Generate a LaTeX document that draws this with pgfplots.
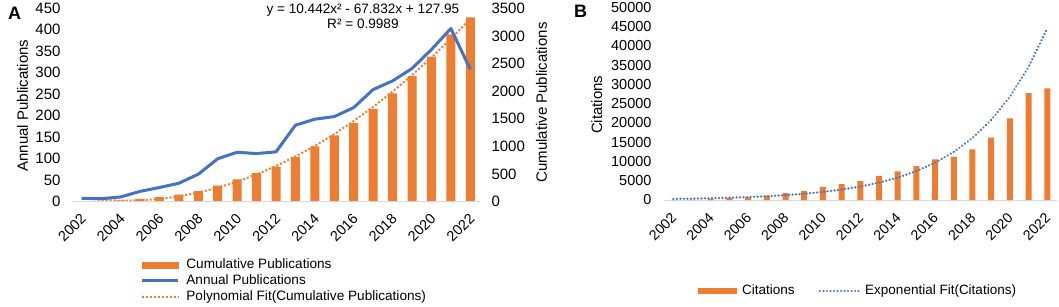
\documentclass[border=0pt]{standalone}
\usepackage{fontspec}
\setmainfont{Liberation Sans}
\usepackage{pgfplots}
\pgfplotsset{compat=1.18}
\definecolor{xorange}{HTML}{ED7D31}
\definecolor{xblue}{HTML}{4472C4}
\definecolor{xgrid}{HTML}{D9D9D9}
\pgfplotsset{
  common/.style={
    scale only axis, xmin=-0.5, xmax=20.5,
    major tick length=0pt,
    /pgf/number format/assume math mode=true,
    /pgf/number format/1000 sep={},
    scaled y ticks=false,
    clip=false,
  },
}
\begin{document}
\begin{tikzpicture}[x=1pt,y=1pt]
\path[use as bounding box] (0,0) rectangle (1059,306);
\node[font=\bfseries\fontsize{18}{20}\selectfont, anchor=center] at (14.5,292.5) {A};
\node[font=\bfseries\fontsize{18}{20}\selectfont, anchor=center] at (580.5,294.5) {B};

% ---------- Panel A, right axis: cumulative ----------
\begin{axis}[common,
  at={(72pt,104.3pt)}, anchor=south west,
  width=408pt, height=193.4pt,
  ymin=0, ymax=3500, ytick={0,500,...,3500},
  axis y line*=right, axis x line=none,
  y axis line style={draw=none},
  yticklabel style={font=\fontsize{15}{17}\selectfont, anchor=west, xshift=8pt},
  ylabel={Cumulative Publications},
  every axis y label/.style={at={(axis description cs:1.151,0.513)}, rotate=90, anchor=center, font=\fontsize{15}{17}\selectfont},
]
\addplot[ybar, bar width=9pt, bar shift=0pt, fill=xorange, draw=none, forget plot] coordinates {
(0,8) (1,15) (2,26) (3,50) (4,83) (5,126) (6,190) (7,290) (8,405) (9,517) (10,633)
(11,811) (12,1003) (13,1201) (14,1420) (15,1681) (16,1962) (17,2272) (18,2626) (19,3029) (20,3337)};
\addplot[xorange, line width=2pt, dash pattern=on 2pt off 2pt, forget plot] coordinates {
(0,70.56) (1,34.05) (2,18.43) (3,23.69) (4,49.84) (5,96.87) (6,164.78) (7,253.58) (8,363.26)
(9,493.83) (10,645.28) (11,817.61) (12,1010.83) (13,1224.93) (14,1459.92) (15,1715.79)
(16,1992.54) (17,2290.18) (18,2608.70) (19,2948.11) (20,3308.40)};
\end{axis}

% ---------- Panel A, left axis: annual ----------
\begin{axis}[common,
  at={(72pt,104.3pt)}, anchor=south west,
  width=408pt, height=193.4pt,
  ymin=0, ymax=450, ytick={0,50,...,450},
  axis y line*=left, axis x line*=bottom,
  y axis line style={draw=none},
  x axis line style={draw=xgrid, line width=1pt, -},
  xtick={0,2,...,20},
  xticklabels={2002,2004,2006,2008,2010,2012,2014,2016,2018,2020,2022},
  xticklabel style={font=\fontsize{14.5}{16}\selectfont, xshift=4.2pt, yshift=-12pt, rotate=45, anchor=east},
  yticklabel style={font=\fontsize{15}{17}\selectfont, anchor=east, xshift=-8pt},
  ylabel={Annual Publications},
  every axis y label/.style={at={(axis description cs:-0.121,0.497)}, rotate=90, anchor=center, font=\fontsize{15}{17}\selectfont},
  legend image code/.code={\draw[#1] (0pt,0pt) -- (36.7pt,0pt);},
  legend cell align=left,
  legend style={at={(axis description cs:0.1667,-0.410)}, anchor=west, draw=none, fill=none,
    inner sep=0pt, font=\fontsize{13.6}{15}\selectfont, row sep=4.5pt,
    nodes={inner sep=0pt, text height=9pt, text depth=2.5pt},
    /tikz/every odd column/.append style={column sep=6.5pt}},
]
\addlegendimage{legend image code/.code={\fill[xorange] (0pt,-3.2pt) rectangle (36.7pt,3.2pt);}}
\addlegendentry{Cumulative Publications}
\addplot[xblue, line width=3pt, line join=round] coordinates {
(0,8) (1,7) (2,11) (3,24) (4,33) (5,43) (6,64) (7,100) (8,115) (9,112) (10,116)
(11,178) (12,192) (13,198) (14,219) (15,261) (16,281) (17,310) (18,354) (19,403) (20,308)};
\addlegendentry{Annual Publications}
\addlegendimage{xorange, line width=2pt, dash pattern=on 2pt off 2pt}
\addlegendentry{Polynomial Fit(Cumulative Publications)}
\node[font=\fontsize{13.6}{15}\selectfont, anchor=center] at (axis description cs:0.713,0.991) {y = 10.442x² - 67.832x + 127.95};
\node[font=\fontsize{13.6}{15}\selectfont, anchor=center] at (axis description cs:0.713,0.918) {R² = 0.9989};
\end{axis}

% ---------- Panel B ----------
\begin{axis}[common,
  at={(664pt,106pt)}, anchor=south west,
  width=392.6pt, height=192.7pt,
  ymin=0, ymax=50000, ytick={0,5000,...,50000},
  axis y line*=left, axis x line*=bottom,
  y axis line style={draw=none},
  x axis line style={draw=xgrid, line width=1pt, -},
  xtick={0,2,...,20},
  xticklabels={2002,2004,2006,2008,2010,2012,2014,2016,2018,2020,2022},
  xticklabel style={font=\fontsize{14.2}{16}\selectfont, xshift=3pt, yshift=-13pt, rotate=45, anchor=east},
  yticklabel style={font=\fontsize{14.5}{16}\selectfont, anchor=east, xshift=-9pt},
  ylabel={Citations},
  every axis y label/.style={at={(axis description cs:-0.171,0.494)}, rotate=90, anchor=center, font=\fontsize{15}{17}\selectfont},
  legend image code/.code={\draw[#1] (0pt,0pt) -- (39pt,0pt);},
  legend columns=2,
  legend style={at={(axis description cs:0.0866,-0.472)}, anchor=west, draw=none, fill=none,
    inner sep=0pt, font=\fontsize{13.5}{15}\selectfont,
    nodes={inner sep=0pt, text height=9pt, text depth=2.5pt},
    /tikz/every odd column/.append style={column sep=5pt},
    /tikz/every even column/.append style={column sep=24pt}},
]
\addplot[ybar, bar width=6pt, bar shift=0pt, fill=xorange, draw=none,
  legend image code/.code={\fill[xorange] (0pt,-3.2pt) rectangle (39pt,3.2pt);}] coordinates {
(0,30) (1,100) (2,300) (3,480) (4,690) (5,1120) (6,1780) (7,2380) (8,3400) (9,4150) (10,4930)
(11,6250) (12,7400) (13,8820) (14,10550) (15,11250) (16,13150) (17,16180) (18,21190) (19,27720) (20,28980)};
\addlegendentry{Citations}
\addplot[xblue, line width=2.5pt, dash pattern=on 0.01pt off 3.5pt, line cap=round] coordinates {
(0,274) (1,354) (2,456) (3,589) (4,759) (5,979) (6,1263) (7,1629) (8,2101) (9,2710) (10,3496)
(11,4509) (12,5816) (13,7502) (14,9675) (15,12480) (16,16096) (17,20761) (18,26778) (19,34539) (20,44548)};
\addlegendentry{Exponential Fit(Citations)}
\end{axis}
\end{tikzpicture}
\end{document}
